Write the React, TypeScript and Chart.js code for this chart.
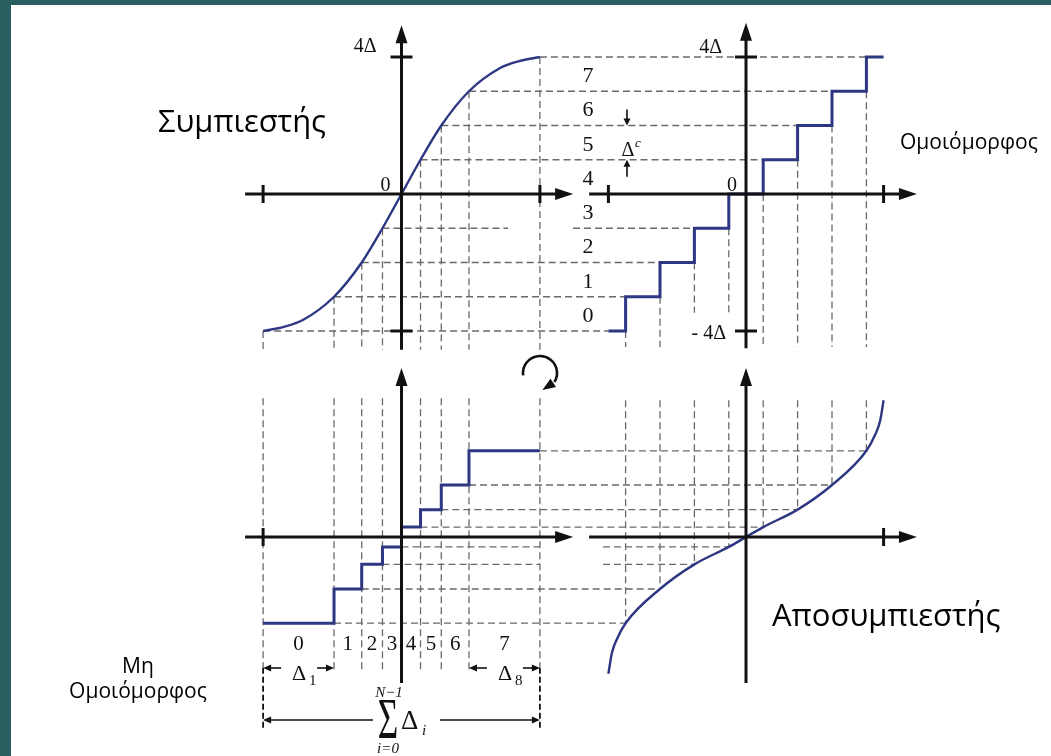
import { useEffect, useRef } from 'react';
import { Chart, registerables } from 'chart.js';

Chart.register(...registerables);

// Compressor characteristic c(x): input amplitude -> compressed amplitude (units of Δ)
const compressorIn = [-4, -3.4, -2.85, -1.95, -1.15, -0.55, 0, 0.55, 1.15, 1.95, 2.85, 3.4, 4];
const compressorOut = [-4, -3.88, -3.68, -3, -2, -1, 0, 1, 2, 3, 3.68, 3.88, 4];

// Uniform quantizer: cell edges and output levels
const uniformEdges = [-4, -3.5, -2.5, -1.5, -0.5, 0.5, 1.5, 2.5, 3.5, 4];
const uniformLevels = [-4, -3, -2, -1, 0, 1, 2, 3, 4];

// Equivalent non-uniform quantizer: decision edges and reconstruction levels
const cellEdges = [-4, -1.95, -1.15, -0.55, 0, 0.55, 1.15, 1.95, 4];
const nonUniformLevels = [-2.52, -1.52, -0.8, -0.29, 0.29, 0.8, 1.52, 2.52];

// Expander characteristic e(y), the inverse of the compressor
const expanderIn = [-4, -3.9, -3.75, -3.5, -2.5, -1.5, -0.5, 0, 0.5, 1.5, 2.5, 3.5, 3.75, 3.9, 4];
const expanderOut = [-4, -3.4, -2.98, -2.52, -1.52, -0.8, -0.29, 0, 0.29, 0.8, 1.52, 2.52, 2.98, 3.4, 4];

// Code words of the eight quantization cells
const codeWords = ['0', '1', '2', '3', '4', '5', '6', '7'];

const W = 1051;
const H = 756;
const TEAL = '#2b5e61';
const CURVE = '#2e3782';
const GUIDE = '#6a6a6a';
const INK = '#111';
const SERIF = '"Liberation Serif", "DejaVu Serif", serif';
const SANS = '"Open Sans", "Noto Sans", sans-serif';

// pixel origin and pixels per unit of each of the four frames
const FRAMES: Record<string, { origin: number; unit: number; vertical: boolean }> = {
  xL: { origin: 401.5, unit: 34.6, vertical: false },
  xR: { origin: 746, unit: 34.4, vertical: false },
  yT: { origin: 194, unit: 34.25, vertical: true },
  yB: { origin: 537, unit: 34.2, vertical: true },
};

function frameScale(id: string) {
  const f = FRAMES[id];
  const size = f.vertical ? H : W;
  const lo = f.vertical ? -(size - f.origin) / f.unit : -f.origin / f.unit;
  const hi = f.vertical ? f.origin / f.unit : (size - f.origin) / f.unit;
  return {
    type: 'linear',
    axis: f.vertical ? 'y' : 'x',
    position: f.vertical ? 'left' : 'bottom',
    display: false,
    bounds: 'data',
    grace: 0,
    min: lo,
    max: hi,
  };
}

function pairs(xs: number[], ys: number[]) {
  return xs.map((x, i) => ({ x, y: ys[i] }));
}

function steps(edges: number[], levels: number[]) {
  const pts: { x: number; y: number }[] = [];
  levels.forEach((lvl, i) => {
    pts.push({ x: edges[i], y: lvl });
    pts.push({ x: edges[i + 1], y: lvl });
  });
  return pts;
}

function arrowHead(ctx: CanvasRenderingContext2D, tx: number, ty: number, dx: number, dy: number, len: number, half: number) {
  const n = Math.hypot(dx, dy);
  const ux = dx / n, uy = dy / n;
  const bx = tx - ux * len, by = ty - uy * len;
  ctx.beginPath();
  ctx.moveTo(tx, ty);
  ctx.lineTo(bx - uy * half, by + ux * half);
  ctx.lineTo(bx + uy * half, by - ux * half);
  ctx.closePath();
  ctx.fill();
}

function fitText(ctx: CanvasRenderingContext2D, text: string, family: string, target: number, maxSize: number) {
  ctx.font = `100px ${family}`;
  const w = ctx.measureText(text).width;
  const size = Math.min(maxSize, (100 * target) / w);
  ctx.font = `${size}px ${family}`;
  return size;
}

const diagramPlugin = {
  id: 'quantizerDiagram',
  beforeDatasetsDraw(chart: any) {
    const ctx: CanvasRenderingContext2D = chart.ctx;
    const P = (id: string, v: number) => chart.scales[id].getPixelForValue(v);
    const seg = (x1: number, y1: number, x2: number, y2: number) => {
      ctx.beginPath();
      ctx.moveTo(x1, y1);
      ctx.lineTo(x2, y2);
      ctx.stroke();
    };
    ctx.save();
    ctx.strokeStyle = GUIDE;
    ctx.lineWidth = 1.3;
    ctx.setLineDash([7, 4]);

    // compressor outputs carried across to the uniform staircase, and down to the non-uniform cells
    uniformLevels.forEach((lvl, i) => {
      if (lvl === 0) return;
      const y = P('yT', lvl);
      const xa = P('xL', cellEdges[i]);
      const xb = P('xR', uniformEdges[i]);
      if (lvl === -1) {
        seg(xa, y, 508, y);
        seg(573, y, xb, y);
      } else {
        seg(xa, y, xb, y);
      }
      seg(xa, y, xa, P('yT', -4.55));
      const outer = i === 0 || i === uniformLevels.length - 1;
      seg(xa, P('yB', 4.06), xa, P('yB', outer ? -3.82 : -3.97));
    });

    // uniform cell edges dropped to the expander curve
    for (let j = 1; j < uniformEdges.length - 1; j++) {
      const x = P('xR', uniformEdges[j]);
      seg(x, P('yT', uniformLevels[j - 1]), x, P('yT', j === 3 || j === 4 ? -3.47 : -4.47));
      seg(x, P('yB', 4.0), x, P('yB', nonUniformLevels[j - 1]));
    }

    // expander outputs carried back to the non-uniform staircase
    nonUniformLevels.forEach((lvl, j) => {
      const y = P('yB', lvl);
      const xa = P('xL', cellEdges[j + 1]);
      const xb = P('xR', uniformEdges[j + 1]);
      if (j === 2 || j === 3) {
        seg(xa, y, P('xL', 4), y);
        seg(603, y, xb, y);
      } else {
        seg(xa, y, xb, y);
      }
    });

    // total range bracket
    ctx.strokeStyle = INK;
    ctx.lineWidth = 1.8;
    ctx.setLineDash([6, 3]);
    [cellEdges[0], cellEdges[cellEdges.length - 1]].forEach((e) => {
      const x = P('xL', e);
      seg(x, P('yB', -3.82), x, P('yB', -5.62));
    });
    ctx.restore();
  },
  afterDatasetsDraw(chart: any) {
    const ctx: CanvasRenderingContext2D = chart.ctx;
    const P = (id: string, v: number) => chart.scales[id].getPixelForValue(v);
    ctx.save();
    ctx.strokeStyle = INK;
    ctx.fillStyle = INK;
    ctx.lineCap = 'butt';

    const frames = [
      { x: 'xL', y: 'yT', x0: -4.52, x1: 4.96, y0: -4.55, y1: 4.93, xt: [-4, 4], yt: [-4, 4] },
      { x: 'xR', y: 'yT', x0: -4.56, x1: 4.97, y0: -4.5, y1: 5.0, xt: [-4, 4], yt: [-4, 4] },
      { x: 'xL', y: 'yB', x0: -4.52, x1: 4.96, y0: -4.27, y1: 4.94, xt: [-4], yt: [] as number[] },
      { x: 'xR', y: 'yB', x0: -4.56, x1: 4.97, y0: -4.27, y1: 4.94, xt: [4], yt: [] as number[] },
    ];
    frames.forEach((f) => {
      const oy = P(f.y, 0);
      const ox = P(f.x, 0);
      const xa = P(f.x, f.x0), xb = P(f.x, f.x1);
      const ya = P(f.y, f.y0), yb = P(f.y, f.y1);
      ctx.lineWidth = 3;
      ctx.beginPath();
      ctx.moveTo(xa, oy);
      ctx.lineTo(xb - 10, oy);
      ctx.moveTo(ox, ya);
      ctx.lineTo(ox, yb + 10);
      ctx.stroke();
      arrowHead(ctx, xb, oy, 1, 0, 18, 6);
      arrowHead(ctx, ox, yb, 0, -1, 18, 6);
      ctx.lineWidth = 3;
      f.xt.forEach((t) => {
        const x = P(f.x, t);
        ctx.beginPath();
        ctx.moveTo(x, oy - 9);
        ctx.lineTo(x, oy + 9);
        ctx.stroke();
      });
      f.yt.forEach((t) => {
        const y = P(f.y, t);
        ctx.beginPath();
        ctx.moveTo(ox - 11, y);
        ctx.lineTo(ox + 11, y);
        ctx.stroke();
      });
    });

    // axis labels
    ctx.font = `20px ${SERIF}`;
    ctx.textBaseline = 'alphabetic';
    ctx.textAlign = 'right';
    ctx.fillText('4Δ', P('xL', 0) - 25, P('yT', 4) - 5);
    ctx.fillText('0', P('xL', 0) - 11, P('yT', 0) - 3);
    ctx.fillText('4Δ', P('xR', 0) - 24, P('yT', 4) - 4);
    ctx.fillText('- 4Δ', P('xR', 0) - 20, P('yT', -4) + 8);
    ctx.fillText('0', P('xR', 0) - 9, P('yT', 0) - 3);

    // code words beside the uniform levels
    ctx.textAlign = 'center';
    ctx.font = `22px ${SERIF}`;
    codeWords.forEach((c, k) => {
      const yv = (uniformLevels[k] + uniformLevels[k + 1]) / 2;
      ctx.fillText(c, P('xR', -4.59), P('yT', yv) + 8);
    });

    // code words under the non-uniform cells
    ctx.font = `21px ${SERIF}`;
    codeWords.forEach((c, k) => {
      const xv = (cellEdges[k] + cellEdges[k + 1]) / 2;
      ctx.fillText(c, P('xL', xv), 650);
    });

    // step size of the uniform quantizer
    const dcx = P('xR', -3.46);
    ctx.lineWidth = 1.6;
    ctx.beginPath();
    ctx.moveTo(dcx, P('yT', 2) - 16);
    ctx.lineTo(dcx, P('yT', 2) - 5);
    ctx.moveTo(dcx, P('yT', 1) + 17);
    ctx.lineTo(dcx, P('yT', 1) + 5);
    ctx.stroke();
    arrowHead(ctx, dcx, P('yT', 2), 0, 1, 7, 3.5);
    arrowHead(ctx, dcx, P('yT', 1), 0, -1, 7, 3.5);
    ctx.font = `20px ${SERIF}`;
    ctx.textAlign = 'center';
    ctx.fillText('Δ', dcx + 1, 156);
    ctx.font = `italic 13px ${SERIF}`;
    ctx.textAlign = 'left';
    ctx.fillText('c', dcx + 8, 147);

    // cell widths Δ1 and Δ8
    const bx0 = P('xL', cellEdges[0]);
    const bx1 = P('xL', cellEdges[1]);
    const bx7 = P('xL', cellEdges[7]);
    const bx8 = P('xL', cellEdges[8]);
    const wy = 668;
    ctx.lineWidth = 1.6;
    const hArrow = (from: number, to: number, y: number) => {
      const dir = Math.sign(to - from);
      ctx.beginPath();
      ctx.moveTo(from, y);
      ctx.lineTo(to - dir * 6, y);
      ctx.stroke();
      arrowHead(ctx, to, y, dir, 0, 8, 3.5);
    };
    hArrow(bx0 + 18, bx0, wy);
    hArrow(bx1 - 17, bx1, wy);
    hArrow(bx7 + 18, bx7, wy);
    hArrow(bx8 - 17, bx8, wy);
    ctx.font = `22px ${SERIF}`;
    ctx.textAlign = 'center';
    ctx.fillText('Δ', 299, 680);
    ctx.fillText('Δ', 505, 680);
    ctx.font = `15px ${SERIF}`;
    ctx.textAlign = 'left';
    ctx.fillText('1', 309, 685);
    ctx.fillText('8', 515, 685);

    // total range Σ Δi
    hArrow(373, bx0, 720);
    hArrow(440, bx8, 720);
    ctx.save();
    ctx.translate(388, 738);
    ctx.scale(1.1, 1.75);
    ctx.font = `32px ${SERIF}`;
    ctx.textAlign = 'center';
    ctx.fillText('Σ', 0, 0);
    ctx.restore();
    ctx.font = `italic 15px ${SERIF}`;
    ctx.textAlign = 'center';
    ctx.fillText('N−1', 389, 697);
    ctx.fillText('i=0', 388, 753);
    ctx.font = `27px ${SERIF}`;
    ctx.textAlign = 'left';
    ctx.fillText('Δ', 401, 729);
    ctx.font = `italic 15px ${SERIF}`;
    ctx.fillText('i', 422, 735);

    // rotation symbol
    const rcx = 540, rcy = 373, rr = 17;
    const endA = (32 * Math.PI) / 180;
    ctx.lineWidth = 2.6;
    ctx.beginPath();
    ctx.arc(rcx, rcy, rr, (172 * Math.PI) / 180, endA + 2 * Math.PI);
    ctx.stroke();
    const ex = rcx + rr * Math.cos(endA);
    const ey = rcy + rr * Math.sin(endA);
    arrowHead(ctx, ex - 12, ey + 8, -12, 8, 13, 5);

    // block titles
    ctx.fillStyle = '#000';
    ctx.textAlign = 'left';
    fitText(ctx, 'Συμπιεστής', SANS, 168, 32);
    ctx.fillText('Συμπιεστής', 158, 132);
    fitText(ctx, 'Αποσυμπιεστής', SANS, 239, 31);
    ctx.fillText('Αποσυμπιεστής', 772, 626);
    fitText(ctx, 'Ομοιόμορφος', SANS, 147, 21);
    ctx.fillText('Ομοιόμορφος', 900, 149);
    ctx.textAlign = 'center';
    fitText(ctx, 'Ομοιόμορφος', SANS, 147, 21);
    ctx.fillText('Μη', 138, 673);
    ctx.fillText('Ομοιόμορφος', 138, 698);
    ctx.restore();
  },
};

export default function App() {
  const ref = useRef<HTMLCanvasElement>(null);

  useEffect(() => {
    document.body.style.margin = '0';
    const canvas = ref.current;
    if (!canvas) return;
    const line = { showLine: true, pointRadius: 0, borderColor: CURVE, fill: false };
    const chart = new Chart(canvas, {
      type: 'scatter',
      data: {
        datasets: [
          {
            ...line,
            label: 'Συμπιεστής',
            data: pairs(compressorIn, compressorOut),
            xAxisID: 'xL',
            yAxisID: 'yT',
            borderWidth: 2.4,
            cubicInterpolationMode: 'monotone',
          },
          {
            ...line,
            label: 'Ομοιόμορφος',
            data: steps(uniformEdges, uniformLevels),
            xAxisID: 'xR',
            yAxisID: 'yT',
            borderWidth: 3,
          },
          {
            ...line,
            label: 'Μη Ομοιόμορφος',
            data: steps(cellEdges, nonUniformLevels),
            xAxisID: 'xL',
            yAxisID: 'yB',
            borderWidth: 3,
          },
          {
            ...line,
            label: 'Αποσυμπιεστής',
            data: pairs(expanderIn, expanderOut),
            xAxisID: 'xR',
            yAxisID: 'yB',
            borderWidth: 2.4,
            cubicInterpolationMode: 'monotone',
          },
        ] as any,
      },
      options: {
        responsive: false,
        maintainAspectRatio: false,
        animation: false,
        events: [],
        layout: { padding: 0 },
        plugins: { legend: { display: false }, tooltip: { enabled: false }, title: { display: false } },
        scales: {
          x: { display: false },
          y: { display: false },
          xL: frameScale('xL'),
          xR: frameScale('xR'),
          yT: frameScale('yT'),
          yB: frameScale('yB'),
        } as any,
      },
      plugins: [diagramPlugin],
    });
    return () => chart.destroy();
  }, []);

  return (
    <div style={{ position: 'relative', width: W, height: H, background: TEAL, overflow: 'hidden' }}>
      <div style={{ position: 'absolute', left: 11, top: 5, right: 0, bottom: 0, background: '#fff' }} />
      <canvas
        ref={ref}
        width={W}
        height={H}
        style={{ position: 'absolute', left: 0, top: 0, width: W, height: H }}
      />
    </div>
  );
}
